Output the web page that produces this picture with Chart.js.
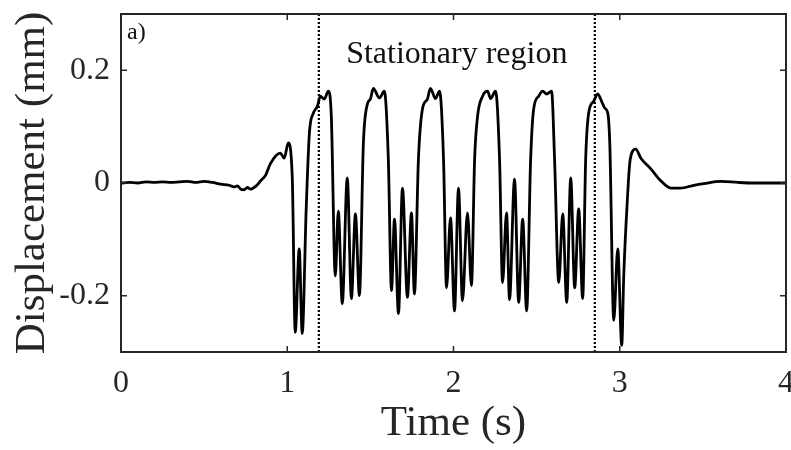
<!DOCTYPE html>
<html>
<head>
<meta charset="utf-8">
<script src="https://cdn.jsdelivr.net/npm/chart.js@4"></script>
<style>
  body { margin: 0; background: #fff; }
</style>
</head>
<body>
<canvas id="displacement_chart" width="791" height="450"></canvas>
<script>
// values
const time_s = [
  0.00, 0.05, 0.10, 0.15, 0.20, 0.25, 0.30, 0.35, 0.40, 0.45,
  0.50, 0.55, 0.60, 0.65, 0.68, 0.70, 0.72, 0.74, 0.76, 0.78,
  0.80, 0.82, 0.84, 0.87, 0.898, 0.958, 0.982, 1.006, 1.030, 1.048,
  1.072, 1.090, 1.114, 1.133, 1.157, 1.181, 1.199, 1.223, 1.247, 1.265,
  1.289, 1.307, 1.331, 1.361, 1.386, 1.410, 1.434, 1.458, 1.482, 1.500,
  1.518, 1.554, 1.584, 1.608, 1.627, 1.645, 1.669, 1.693, 1.723, 1.747,
  1.765, 1.789, 1.813, 1.843, 1.861, 1.892, 1.916, 1.940, 1.958, 1.982,
  2.006, 2.030, 2.054, 2.084, 2.108, 2.127, 2.145, 2.175, 2.205, 2.223,
  2.253, 2.277, 2.295, 2.319, 2.337, 2.367, 2.392, 2.416, 2.440, 2.464,
  2.482, 2.512, 2.536, 2.560, 2.590, 2.608, 2.633, 2.657, 2.681, 2.705,
  2.729, 2.753, 2.777, 2.795, 2.813, 2.843, 2.867, 2.898, 2.910, 2.928,
  2.940, 2.964, 2.988, 3.012, 3.024, 3.048, 3.060, 3.078, 3.096, 3.127,
  3.187, 3.247, 3.307, 3.367, 3.446, 3.506, 3.608, 3.711, 3.807, 3.910,
  4.000
];
const displacement_mm = [
  0.000, 0.001, 0.000, 0.002, 0.001, 0.002, 0.001, 0.002, 0.003, 0.001,
  0.003, 0.001, -0.002, -0.004, -0.007, -0.005, -0.011, -0.012, -0.008, -0.011,
  -0.008, -0.003, 0.004, 0.014, 0.034, 0.053, 0.044, 0.071, 0.012, -0.265,
  -0.117, -0.267, -0.046, 0.088, 0.124, 0.136, 0.154, 0.149, 0.163, 0.119,
  -0.165, -0.050, -0.214, 0.009, -0.205, -0.055, -0.200, 0.071, 0.140, 0.149,
  0.168, 0.151, 0.163, 0.042, -0.191, -0.064, -0.232, -0.009, -0.203, -0.053,
  -0.197, 0.042, 0.131, 0.149, 0.168, 0.150, 0.163, 0.042, -0.186, -0.062,
  -0.227, -0.009, -0.209, -0.053, -0.182, 0.042, 0.119, 0.154, 0.163, 0.150,
  0.163, 0.042, -0.177, -0.053, -0.207, 0.007, -0.212, -0.064, -0.227, 0.042,
  0.131, 0.154, 0.163, 0.158, 0.163, 0.042, -0.177, -0.055, -0.212, 0.009,
  -0.186, -0.046, -0.205, 0.042, 0.124, 0.145, 0.158, 0.140, 0.133, 0.124,
  0.071, -0.244, -0.117, -0.288, -0.165, -0.018, 0.035, 0.057, 0.060, 0.044,
  0.025, 0.004, -0.009, -0.009, -0.004, -0.001, 0.003, 0.001, 0.000, 0.000,
  0.000
];
const region_bounds_s = [1.19, 2.85];
const x_ticks = [0, 1, 2, 3, 4];
const x_tick_labels = ["0", "1", "2", "3", "4"];
const y_ticks = [-0.2, 0, 0.2];
const y_tick_labels = ["-0.2", "0", "0.2"];

const serif = "'Liberation Serif', 'Times New Roman', serif";
const ink = "#262626";

const curve_points = time_s.map((t, i) => ({ x: t, y: displacement_mm[i] }));
const bound_lines = region_bounds_s.map((t) => [
  { x: t, y: -0.3 },
  { x: t, y: 0.3 },
]);

// box around plot + inward ticks, and the two labels
const frame_plugin = {
  id: "frame_plugin",
  afterDraw(chart) {
    const ctx = chart.ctx;
    const a = chart.chartArea;
    const sx = chart.scales.x;
    const sy = chart.scales.y;
    ctx.save();
    ctx.strokeStyle = ink;
    ctx.lineWidth = 2;
    ctx.strokeRect(a.left, a.top, a.right - a.left, a.bottom - a.top);
    ctx.lineWidth = 1.5;
    ctx.beginPath();
    x_ticks.forEach((v) => {
      const px = sx.getPixelForValue(v);
      ctx.moveTo(px, a.bottom);
      ctx.lineTo(px, a.bottom - 6);
      ctx.moveTo(px, a.top);
      ctx.lineTo(px, a.top + 6);
    });
    y_ticks.forEach((v) => {
      const py = sy.getPixelForValue(v);
      ctx.moveTo(a.left, py);
      ctx.lineTo(a.left + 6, py);
      ctx.moveTo(a.right, py);
      ctx.lineTo(a.right - 6, py);
    });
    ctx.stroke();

    ctx.fillStyle = "#111";
    ctx.font = "24px " + serif;
    ctx.textAlign = "left";
    ctx.textBaseline = "alphabetic";
    ctx.fillText("a)", a.left + 6, a.top + 25);

    ctx.font = "32px " + serif;
    ctx.textAlign = "center";
    const mid = (sx.getPixelForValue(region_bounds_s[0]) + sx.getPixelForValue(region_bounds_s[1])) / 2;
    ctx.fillText("Stationary region", mid, a.top + 49);
    ctx.restore();
  },
};

const ctx = document.getElementById("displacement_chart").getContext("2d");
new Chart(ctx, {
  type: "line",
  data: {
    datasets: [
      {
        data: curve_points,
        borderColor: "#000",
        borderWidth: 2.8,
        pointRadius: 0,
        cubicInterpolationMode: "monotone",
      },
      ...bound_lines.map((pts) => ({
        data: pts,
        borderColor: "#000",
        borderWidth: 2.2,
        borderDash: [2, 2],
        borderCapStyle: "butt",
        pointRadius: 0,
      })),
    ],
  },
  options: {
    responsive: false,
    animation: false,
    layout: { padding: { top: 14, right: 5, left: 0, bottom: 0 } },
    plugins: { legend: { display: false }, tooltip: { enabled: false } },
    scales: {
      x: {
        type: "linear",
        min: 0,
        max: 4,
        afterBuildTicks: (s) => {
          s.ticks = x_ticks.map((v) => ({ value: v }));
        },
        afterFit: (s) => {
          s.height = 98;
          s.paddingLeft = 0;
          s.paddingRight = 0;
        },
        grid: { display: false, drawTicks: false },
        border: { display: false },
        ticks: {
          padding: 12,
          maxRotation: 0,
          color: ink,
          font: { family: serif, size: 32 },
          callback: (v) => x_tick_labels[x_ticks.indexOf(v)],
        },
        title: {
          display: true,
          text: "Time (s)",
          color: ink,
          padding: 0,
          font: { family: serif, size: 43 },
        },
      },
      y: {
        min: -0.3,
        max: 0.3,
        afterBuildTicks: (s) => {
          s.ticks = y_ticks.map((v) => ({ value: v }));
        },
        afterFit: (s) => {
          s.width = 121;
          s.paddingTop = 0;
          s.paddingBottom = 0;
        },
        grid: { display: false, drawTicks: false },
        border: { display: false },
        ticks: {
          padding: 11,
          color: ink,
          font: { family: serif, size: 32 },
          callback: (v) => y_tick_labels[y_ticks.indexOf(v)],
        },
        title: {
          display: true,
          text: "Displacement (mm)",
          color: ink,
          padding: { top: 7, bottom: 0 },
          font: { family: serif, size: 43 },
        },
      },
    },
  },
  plugins: [frame_plugin],
});
</script>
</body>
</html>
